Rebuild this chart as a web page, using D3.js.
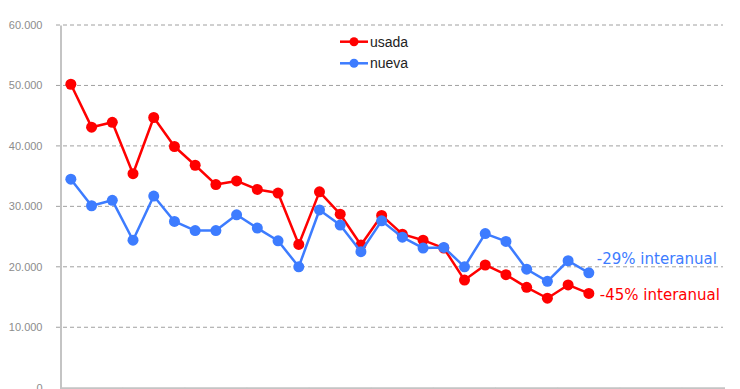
<!DOCTYPE html>
<html>
<head>
<meta charset="utf-8">
<script src="https://cdn.jsdelivr.net/npm/d3@7"></script>
<style>
  body { margin: 0; background: #fff; }
  svg { display: block; }
</style>
</head>
<body>
<script>
// 26 monthly observations, plot area leaves room for 32 slots
const slots = d3.range(32)
const usada = [50.2, 43.1, 43.9, 35.4, 44.7, 39.9, 36.8, 33.6, 34.2, 32.8, 32.2, 23.7, 32.4, 28.7,
               23.6, 28.5, 25.4, 24.4, 23.1, 17.8, 20.3, 18.7, 16.6, 14.8, 17.0, 15.6]
const nueva = [34.5, 30.1, 31.0, 24.4, 31.7, 27.5, 26.0, 26.0, 28.6, 26.4, 24.3, 20.0, 29.4, 26.9,
               22.5, 27.6, 24.9, 23.1, 23.2, 20.0, 25.5, 24.2, 19.6, 17.6, 21.0, 19.0]
const yTicks = [0, 10, 20, 30, 40, 50, 60]
const series = [
  {name: 'usada', values: usada, color: '#ff0000', note: '-45% interanual'},
  {name: 'nueva', values: nueva, color: '#3d7cff', note: '-29% interanual'}
]

const width = 740, height = 389
const svg = d3.select('body').append('svg')
  .attr('width', width)
  .attr('height', height)

const x = d3.scaleBand()
  .domain(slots)
  .range([60.5, 723.5])

const y = d3.scaleLinear()
  .domain([0, 60])
  .range([387.7, 25])

const fmt = d => d3.format(',')(d * 1000).replace(',', '.')

// gridlines
svg.append('g')
  .selectAll('line')
  .data(yTicks.filter(d => d > 0))
  .enter()
  .append('line')
  .attr('x1', 56)
  .attr('x2', 723)
  .attr('y1', d => y(d))
  .attr('y2', d => y(d))
  .attr('stroke', '#a0a0a0')
  .attr('stroke-width', 1)
  .attr('stroke-dasharray', '4,3')

// y axis
const yAxis = svg.append('g')
  .attr('transform', 'translate(60.5,0)')
  .call(d3.axisLeft(y).tickValues(yTicks).tickFormat(fmt).tickSize(0).tickPadding(18))
yAxis.select('.domain').attr('stroke', '#c4c4c4').attr('stroke-width', 2)
yAxis.selectAll('text')
  .attr('fill', '#8c8c8c')
  .style('font-family', 'Liberation Sans, Arial, sans-serif')
  .style('font-size', '11px')

// x axis
const xAxis = svg.append('g')
  .attr('transform', `translate(0,${y(0)})`)
  .call(d3.axisBottom(x).tickValues(slots.filter(d => d % 3 === 0)).tickFormat('').tickSize(4))
xAxis.select('.domain').attr('stroke', '#c4c4c4').attr('stroke-width', 2)
xAxis.selectAll('.tick line')
  .attr('stroke', '#c4c4c4')
  .attr('transform', `translate(${-x.bandwidth() / 2},0)`)

const cx = i => x(i) + x.bandwidth() / 2

const line = d3.line()
  .x((d, i) => cx(i))
  .y(d => y(d))

series.forEach(s => {
  const g = svg.append('g')
  g.append('path')
    .datum(s.values)
    .attr('d', line)
    .attr('fill', 'none')
    .attr('stroke', s.color)
    .attr('stroke-width', 2.5)
    .attr('stroke-linejoin', 'round')
  g.selectAll('circle')
    .data(s.values)
    .enter()
    .append('circle')
    .attr('cx', (d, i) => cx(i))
    .attr('cy', d => y(d))
    .attr('r', 5.5)
    .attr('fill', s.color)

  const last = s.values.length - 1
  g.append('text')
    .attr('x', cx(last) + (s.name === 'usada' ? 11 : 8))
    .attr('y', y(s.values[last]) + (s.name === 'usada' ? 1 : -14))
    .attr('dy', '0.35em')
    .attr('fill', s.color)
    .style('font-family', 'DejaVu Sans, Verdana, sans-serif')
    .style('font-size', '15px')
    .text(s.note)
})

// legend
const legend = svg.append('g')
  .selectAll('g')
  .data(series)
  .enter()
  .append('g')
  .attr('transform', (d, i) => `translate(340,${41.7 + i * 21.6})`)
legend.append('line')
  .attr('x1', 0)
  .attr('x2', 28)
  .attr('stroke', d => d.color)
  .attr('stroke-width', 2.5)
legend.append('circle')
  .attr('cx', 14)
  .attr('r', 4.5)
  .attr('fill', d => d.color)
legend.append('text')
  .attr('x', 30)
  .attr('dy', '0.35em')
  .attr('fill', '#222')
  .style('font-family', 'Liberation Sans, Arial, sans-serif')
  .style('font-size', '14px')
  .text(d => d.name)
</script>
</body>
</html>
